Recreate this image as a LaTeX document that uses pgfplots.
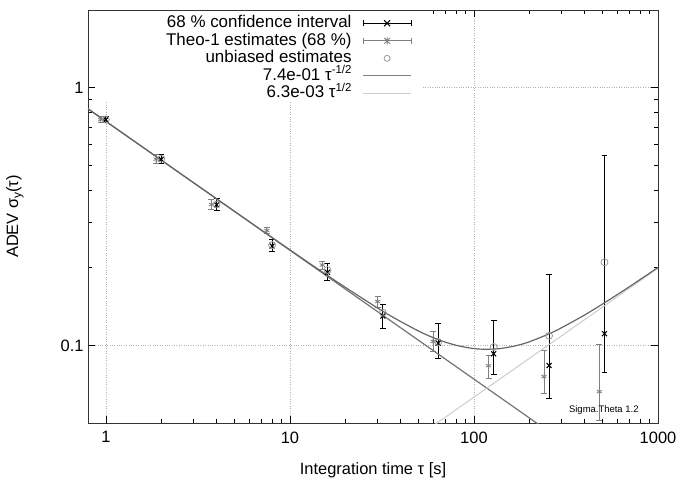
\documentclass[border=0pt]{standalone}
\usepackage{pgfplots}
\pgfplotsset{compat=1.18}
\usepackage{pgfplotstable}
\usepackage{fontspec}
\setmainfont{Liberation Sans}
\usetikzlibrary{calc}
\newcommand{\sps}[1]{\raisebox{0.75ex}{\fontsize{11.5}{12}\selectfont #1}}
\pgfplotstableread{
x y ep em
1 0.751 0.023 0.021
2 0.527 0.024 0.020
4 0.351 0.019 0.017
8 0.243 0.014 0.012
16 0.192 0.016 0.014
32 0.130 0.014 0.014
64 0.102 0.020 0.0127
128 0.0928 0.0322 0.0154
256 0.0836 0.1044 0.0212
512 0.111 0.436 0.0325
}\ci
\pgfplotstableread{
x y ep em
0.9375 0.752 0.020 0.019
1.875 0.528 0.022 0.018
3.75 0.352 0.018 0.016
7.5 0.279 0.009 0.008
15 0.205 0.007 0.008
30 0.148 0.007 0.008
60 0.1037 0.0093 0.009
120 0.0834 0.0078 0.0087
240 0.0757 0.0197 0.0108
480 0.0662 0.0344 0.0148
}\theo
\pgfplotstableread{
x y
1 0.752
2 0.530
4 0.352
8 0.245
16 0.196
32 0.134
64 0.103
128 0.0986
256 0.109
512 0.210
}\unb
\pgfplotstableread{
x y
0.8 0.8274
1 0.7400
2 0.5233
4 0.3702
8 0.2622
16 0.1867
32 0.1356
50 0.1137
64 0.1053
80 0.1001
100 0.0972
118 0.0966
140 0.0973
170 0.0998
200 0.1033
256 0.1109
300 0.1172
400 0.1313
512 0.1463
700 0.1690
1000 0.2006
}\comb
\begin{document}
\begin{tikzpicture}
\begin{axis}[
  xmode=log, ymode=log,
  scale only axis, width=570bp, height=413bp,
  xmin=0.8, xmax=1000, ymin=0.05, ymax=2,
  xtick={1,10,100,1000}, xticklabels={1,10,100,1000},
  ytick={0.1,1}, yticklabels={0.1,1},
  tick align=inside,
  major tick length=7bp, minor tick length=4bp,
  every tick/.style={black, line width=0.6pt},
  grid=major,
  major grid style={gray!60, dotted, line width=0.6pt},
  axis line style={line width=0.9pt, black!80},
  tick label style={font=\fontsize{16.5}{18}\selectfont},
  xticklabel style={anchor=north, yshift=-5bp},
  yticklabel style={anchor=east, xshift=-1bp},
  xlabel={Integration time τ [s]},
  ylabel={ADEV σ\raisebox{-0.35ex}{\fontsize{12}{14}\selectfont y}(τ)},
  every axis x label/.style={at={(rel axis cs:0.5,0)}, anchor=center, yshift=-47bp,
     font=\fontsize{16.5}{18}\selectfont},
  every axis y label/.style={at={(rel axis cs:0,0.5)}, anchor=center, xshift=-73bp, rotate=90,
     font=\fontsize{16.5}{18}\selectfont},
  legend style={at={(0.57,0.99)}, anchor=north east, draw=none, fill=none,
    font=\fontsize{17}{17}\selectfont, row sep=1.5bp, column sep=11bp, inner sep=1bp,
    nodes={inner sep=0pt, text height=12.5bp, text depth=3.5bp}},
  legend cell align=right,
  legend plot pos=right,
  clip=true,
]
\coordinate (bl) at (rel axis cs:0,0);
\coordinate (tr) at (rel axis cs:1,1);
\fill[white] (rel axis cs:0.012,0.78) rectangle (rel axis cs:0.585,0.997);
\addplot[black, only marks, mark=x, mark size=3.5pt, line width=1.1pt,
  legend image code/.code={\draw[black, line width=1.1pt] (0bp,0bp)--(48bp,0bp);
     \draw[black, line width=1.1pt] (0bp,-3bp)--(0bp,3bp) (48bp,-3bp)--(48bp,3bp);
     \draw[black, line width=1.1pt] (21bp,-3bp)--(27bp,3bp) (21bp,3bp)--(27bp,-3bp);},
  error bars/.cd, y dir=both, y explicit, error mark options={rotate=90, mark size=3pt, line width=1.1pt},
  error bar style={line width=1.1pt}]
  table[x=x, y=y, y error plus=ep, y error minus=em] {\ci};
\addlegendentry{68 \% confidence interval}
\addplot[gray, only marks, mark=asterisk, mark size=3pt, line width=0.8pt,
  legend image code/.code={\draw[gray, line width=0.8pt] (0bp,0bp)--(48bp,0bp);
     \draw[gray, line width=0.8pt] (0bp,-3bp)--(0bp,3bp) (48bp,-3bp)--(48bp,3bp);
     \draw[gray, line width=0.8pt] (21bp,-3bp)--(27bp,3bp) (21bp,3bp)--(27bp,-3bp) (24bp,-3.5bp)--(24bp,3.5bp);},
  error bars/.cd, y dir=both, y explicit, error mark options={rotate=90, mark size=3pt, line width=0.8pt},
  error bar style={line width=0.8pt}]
  table[x=x, y=y, y error plus=ep, y error minus=em] {\theo};
\addlegendentry{Theo-1 estimates (68 \%)}
\addplot[gray!80, only marks, mark=o, mark size=3.5pt, line width=0.8pt,
  legend image code/.code={\draw[gray!80, line width=0.8pt] (24bp,0bp) circle[radius=3bp];
     \fill[white, opacity=0] (0bp,-1bp) rectangle (48bp,1bp);}] table[x=x,y=y] {\unb};
\addlegendentry{unbiased estimates}
\addplot[gray!110, line width=1.2pt, legend image code/.code={\draw[gray, line width=1.2pt] (0bp,0bp)--(48bp,0bp);}]
  coordinates {(0.8,0.8273) (1000,0.0234)};
\addlegendentry{7.4e-01 τ\sps{-1/2}}
\addplot[gray!40, line width=1.0pt, legend image code/.code={\draw[gray!40, line width=1.0pt] (0bp,0bp)--(48bp,0bp);}]
  coordinates {(0.8,0.005635) (1000,0.1992)};
\addlegendentry{6.3e-03 τ\sps{1/2}}
\addplot[black!60, line width=1.2pt, smooth, forget plot] table[x=x,y=y] {\comb};
\node[anchor=south east, font=\fontsize{9.5}{10}\selectfont] at (rel axis cs:0.972,0.012) {Sigma.Theta 1.2};
\end{axis}
\pgfresetboundingbox
\path ($(bl)+(-88bp,-58bp)$) rectangle ($(tr)+(23bp,10bp)$);
\end{tikzpicture}
\end{document}
